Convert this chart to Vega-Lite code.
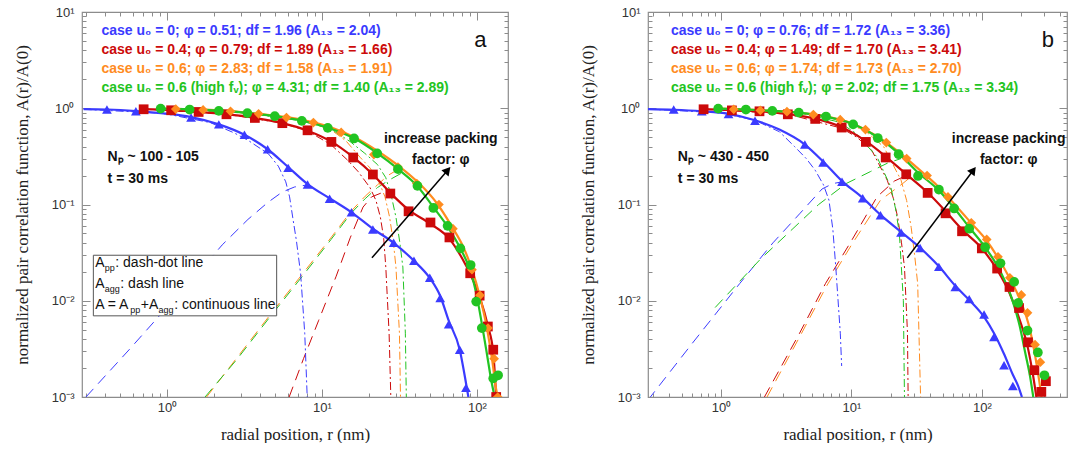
{
"$schema":"https://vega.github.io/schema/vega-lite/v6.json",
"background":"white",
"padding":{"left":12,"top":5,"right":0,"bottom":0},
"spacing":68,
"config":{"view":{"stroke":"#8c8c8c","strokeWidth":1.2},"axis":{"domain":false,"grid":false,"tickColor":"#8c8c8c","tickWidth":1,"labelFont":"Liberation Sans","labelFontSize":13,"labelColor":"#333333","titleFont":"Liberation Serif","titleFontSize":17,"titleFontWeight":"normal","titleColor":"#222222","labelFlush":false,"labelOverlap":false,"labelBound":false}},
"datasets":{
"curves":[
{"p":"a","s":"B","k":"s","r":0.29,"A":0.98},{"p":"a","s":"B","k":"s","r":0.41,"A":0.97},{"p":"a","s":"B","k":"s","r":0.63,"A":0.935},{"p":"a","s":"B","k":"s","r":0.95,"A":0.885},{"p":"a","s":"B","k":"s","r":1.43,"A":0.81},{"p":"a","s":"B","k":"s","r":2.16,"A":0.68},{"p":"a","s":"B","k":"s","r":3.16,"A":0.53},{"p":"a","s":"B","k":"s","r":4.46,"A":0.375},{"p":"a","s":"B","k":"s","r":6.05,"A":0.245},{"p":"a","s":"B","k":"s","r":8.07,"A":0.163},{"p":"a","s":"B","k":"s","r":11.2,"A":0.116},{"p":"a","s":"B","k":"s","r":15.5,"A":0.083},{"p":"a","s":"B","k":"s","r":21.3,"A":0.056},{"p":"a","s":"B","k":"s","r":29,"A":0.04},{"p":"a","s":"B","k":"s","r":39.2,"A":0.026},{"p":"a","s":"B","k":"s","r":49.6,"A":0.0172},{"p":"a","s":"B","k":"s","r":57.9,"A":0.0112},{"p":"a","s":"B","k":"s","r":65.7,"A":0.0062},{"p":"a","s":"B","k":"s","r":77.4,"A":0.0031},{"p":"a","s":"B","k":"s","r":84.9,"A":0.0014},{"p":"a","s":"B","k":"s","r":88,"A":0.001},
{"p":"a","s":"R","k":"s","r":0.707,"A":0.98},{"p":"a","s":"R","k":"s","r":1.064,"A":0.955},{"p":"a","s":"R","k":"s","r":1.6,"A":0.918},{"p":"a","s":"R","k":"s","r":2.42,"A":0.868},{"p":"a","s":"R","k":"s","r":3.69,"A":0.795},{"p":"a","s":"R","k":"s","r":5.55,"A":0.7},{"p":"a","s":"R","k":"s","r":8.07,"A":0.585},{"p":"a","s":"R","k":"s","r":11.5,"A":0.45},{"p":"a","s":"R","k":"s","r":15.9,"A":0.31},{"p":"a","s":"R","k":"s","r":21.3,"A":0.205},{"p":"a","s":"R","k":"s","r":27.6,"A":0.132},{"p":"a","s":"R","k":"s","r":36.2,"A":0.088},{"p":"a","s":"R","k":"s","r":50.1,"A":0.063},{"p":"a","s":"R","k":"s","r":66.4,"A":0.044},{"p":"a","s":"R","k":"s","r":80.8,"A":0.027},{"p":"a","s":"R","k":"s","r":90.4,"A":0.019},{"p":"a","s":"R","k":"s","r":104,"A":0.011},{"p":"a","s":"R","k":"s","r":117.5,"A":0.0055},{"p":"a","s":"R","k":"s","r":127.3,"A":0.0029},{"p":"a","s":"R","k":"s","r":133,"A":0.001},
{"p":"a","s":"O","k":"s","r":0.91,"A":0.99},{"p":"a","s":"O","k":"s","r":1.9,"A":0.96},{"p":"a","s":"O","k":"s","r":3.8,"A":0.88},{"p":"a","s":"O","k":"s","r":7.6,"A":0.755},{"p":"a","s":"O","k":"s","r":11.4,"A":0.635},{"p":"a","s":"O","k":"s","r":16.2,"A":0.5},{"p":"a","s":"O","k":"s","r":22.8,"A":0.36},{"p":"a","s":"O","k":"s","r":31.4,"A":0.25},{"p":"a","s":"O","k":"s","r":42.8,"A":0.163},{"p":"a","s":"O","k":"s","r":55.1,"A":0.103},{"p":"a","s":"O","k":"s","r":68.4,"A":0.06},{"p":"a","s":"O","k":"s","r":81.7,"A":0.036},{"p":"a","s":"O","k":"s","r":93.1,"A":0.021},{"p":"a","s":"O","k":"s","r":104.5,"A":0.011},{"p":"a","s":"O","k":"s","r":115.9,"A":0.0052},{"p":"a","s":"O","k":"s","r":125.4,"A":0.0024},{"p":"a","s":"O","k":"s","r":133,"A":0.0012},{"p":"a","s":"O","k":"s","r":136.8,"A":0.001},
{"p":"a","s":"G","k":"s","r":0.91,"A":0.99},{"p":"a","s":"G","k":"s","r":1.4,"A":0.975},{"p":"a","s":"G","k":"s","r":2.16,"A":0.945},{"p":"a","s":"G","k":"s","r":3.3,"A":0.895},{"p":"a","s":"G","k":"s","r":4.96,"A":0.828},{"p":"a","s":"G","k":"s","r":7.41,"A":0.742},{"p":"a","s":"G","k":"s","r":10.9,"A":0.628},{"p":"a","s":"G","k":"s","r":16.1,"A":0.487},{"p":"a","s":"G","k":"s","r":22.7,"A":0.342},{"p":"a","s":"G","k":"s","r":30.9,"A":0.234},{"p":"a","s":"G","k":"s","r":41.3,"A":0.155},{"p":"a","s":"G","k":"s","r":52.3,"A":0.094},{"p":"a","s":"G","k":"s","r":64.6,"A":0.059},{"p":"a","s":"G","k":"s","r":78.1,"A":0.035},{"p":"a","s":"G","k":"s","r":91,"A":0.02},{"p":"a","s":"G","k":"s","r":98.8,"A":0.012},{"p":"a","s":"G","k":"s","r":107.4,"A":0.0058},{"p":"a","s":"G","k":"s","r":115.9,"A":0.0028},{"p":"a","s":"G","k":"s","r":123.5,"A":0.0015},{"p":"a","s":"G","k":"s","r":130,"A":0.001},
{"p":"a","s":"B","k":"d","r":0.3,"A":0.001},{"p":"a","s":"B","k":"d","r":0.57,"A":0.0031},{"p":"a","s":"B","k":"d","r":0.95,"A":0.0078},{"p":"a","s":"B","k":"d","r":1.43,"A":0.016},{"p":"a","s":"B","k":"d","r":2.27,"A":0.038},{"p":"a","s":"B","k":"d","r":3.33,"A":0.07},{"p":"a","s":"B","k":"d","r":4.47,"A":0.105},{"p":"a","s":"B","k":"d","r":5.55,"A":0.135},{"p":"a","s":"B","k":"d","r":6.65,"A":0.152},{"p":"a","s":"B","k":"d","r":8.07,"A":0.16},
{"p":"a","s":"R","k":"d","r":6.14,"A":0.001},{"p":"a","s":"R","k":"d","r":7.6,"A":0.0025},{"p":"a","s":"R","k":"d","r":9.5,"A":0.0062},{"p":"a","s":"R","k":"d","r":12.35,"A":0.018},{"p":"a","s":"R","k":"d","r":15.2,"A":0.045},{"p":"a","s":"R","k":"d","r":18.4,"A":0.094},{"p":"a","s":"R","k":"d","r":20.9,"A":0.12},{"p":"a","s":"R","k":"d","r":24.5,"A":0.133},{"p":"a","s":"R","k":"d","r":27.6,"A":0.13},
{"p":"a","s":"O","k":"d","r":1.8,"A":0.001},{"p":"a","s":"O","k":"d","r":2.85,"A":0.0026},{"p":"a","s":"O","k":"d","r":4.52,"A":0.0068},{"p":"a","s":"O","k":"d","r":7.6,"A":0.0196},{"p":"a","s":"O","k":"d","r":11.4,"A":0.045},{"p":"a","s":"O","k":"d","r":15.5,"A":0.086},{"p":"a","s":"O","k":"d","r":19,"A":0.122},{"p":"a","s":"O","k":"d","r":22.8,"A":0.16},{"p":"a","s":"O","k":"d","r":26.6,"A":0.2},{"p":"a","s":"O","k":"d","r":31.4,"A":0.235},
{"p":"a","s":"G","k":"d","r":1.76,"A":0.001},{"p":"a","s":"G","k":"d","r":2.85,"A":0.0025},{"p":"a","s":"G","k":"d","r":4.52,"A":0.0065},{"p":"a","s":"G","k":"d","r":7.6,"A":0.0186},{"p":"a","s":"G","k":"d","r":11.4,"A":0.043},{"p":"a","s":"G","k":"d","r":15.5,"A":0.082},{"p":"a","s":"G","k":"d","r":19,"A":0.115},{"p":"a","s":"G","k":"d","r":22.8,"A":0.15},{"p":"a","s":"G","k":"d","r":27.2,"A":0.18},{"p":"a","s":"G","k":"d","r":32.3,"A":0.21},
{"p":"a","s":"B","k":"dd","r":0.29,"A":0.975},{"p":"a","s":"B","k":"dd","r":0.95,"A":0.885},{"p":"a","s":"B","k":"dd","r":1.9,"A":0.71},{"p":"a","s":"B","k":"dd","r":2.71,"A":0.555},{"p":"a","s":"B","k":"dd","r":3.33,"A":0.465},{"p":"a","s":"B","k":"dd","r":4.52,"A":0.335},{"p":"a","s":"B","k":"dd","r":5.23,"A":0.25},{"p":"a","s":"B","k":"dd","r":5.84,"A":0.172},{"p":"a","s":"B","k":"dd","r":6.18,"A":0.12},{"p":"a","s":"B","k":"dd","r":6.47,"A":0.074},{"p":"a","s":"B","k":"dd","r":6.84,"A":0.042},{"p":"a","s":"B","k":"dd","r":7.28,"A":0.0192},{"p":"a","s":"B","k":"dd","r":7.74,"A":0.0046},{"p":"a","s":"B","k":"dd","r":8.03,"A":0.001},
{"p":"a","s":"R","k":"dd","r":0.707,"A":0.98},{"p":"a","s":"R","k":"dd","r":2.42,"A":0.868},{"p":"a","s":"R","k":"dd","r":5.55,"A":0.7},{"p":"a","s":"R","k":"dd","r":8.07,"A":0.58},{"p":"a","s":"R","k":"dd","r":11.4,"A":0.42},{"p":"a","s":"R","k":"dd","r":14.6,"A":0.29},{"p":"a","s":"R","k":"dd","r":17.1,"A":0.22},{"p":"a","s":"R","k":"dd","r":20.4,"A":0.15},{"p":"a","s":"R","k":"dd","r":22.3,"A":0.11},{"p":"a","s":"R","k":"dd","r":23.8,"A":0.074},{"p":"a","s":"R","k":"dd","r":25,"A":0.045},{"p":"a","s":"R","k":"dd","r":25.8,"A":0.0224},{"p":"a","s":"R","k":"dd","r":27.1,"A":0.0046},{"p":"a","s":"R","k":"dd","r":27.8,"A":0.001},
{"p":"a","s":"O","k":"dd","r":0.91,"A":0.99},{"p":"a","s":"O","k":"dd","r":3.8,"A":0.88},{"p":"a","s":"O","k":"dd","r":7.6,"A":0.75},{"p":"a","s":"O","k":"dd","r":11.4,"A":0.6},{"p":"a","s":"O","k":"dd","r":14.25,"A":0.46},{"p":"a","s":"O","k":"dd","r":17.6,"A":0.31},{"p":"a","s":"O","k":"dd","r":20.4,"A":0.24},{"p":"a","s":"O","k":"dd","r":23.2,"A":0.175},{"p":"a","s":"O","k":"dd","r":25.5,"A":0.12},{"p":"a","s":"O","k":"dd","r":27.3,"A":0.074},{"p":"a","s":"O","k":"dd","r":28.9,"A":0.04},{"p":"a","s":"O","k":"dd","r":30,"A":0.0224},{"p":"a","s":"O","k":"dd","r":31.6,"A":0.0046},{"p":"a","s":"O","k":"dd","r":32.1,"A":0.001},
{"p":"a","s":"G","k":"dd","r":0.91,"A":0.99},{"p":"a","s":"G","k":"dd","r":3.3,"A":0.89},{"p":"a","s":"G","k":"dd","r":7.41,"A":0.74},{"p":"a","s":"G","k":"dd","r":11.4,"A":0.61},{"p":"a","s":"G","k":"dd","r":15.2,"A":0.45},{"p":"a","s":"G","k":"dd","r":18.9,"A":0.34},{"p":"a","s":"G","k":"dd","r":22.8,"A":0.26},{"p":"a","s":"G","k":"dd","r":25.8,"A":0.19},{"p":"a","s":"G","k":"dd","r":28.1,"A":0.12},{"p":"a","s":"G","k":"dd","r":30,"A":0.074},{"p":"a","s":"G","k":"dd","r":31.8,"A":0.04},{"p":"a","s":"G","k":"dd","r":33.25,"A":0.0224},{"p":"a","s":"G","k":"dd","r":34.5,"A":0.0046},{"p":"a","s":"G","k":"dd","r":35,"A":0.001},
{"p":"b","s":"B","k":"s","r":0.275,"A":0.98},{"p":"b","s":"B","k":"s","r":0.433,"A":0.965},{"p":"b","s":"B","k":"s","r":0.711,"A":0.93},{"p":"b","s":"B","k":"s","r":1.14,"A":0.875},{"p":"b","s":"B","k":"s","r":1.82,"A":0.75},{"p":"b","s":"B","k":"s","r":2.8,"A":0.6},{"p":"b","s":"B","k":"s","r":4.39,"A":0.42},{"p":"b","s":"B","k":"s","r":6.06,"A":0.28},{"p":"b","s":"B","k":"s","r":8.46,"A":0.175},{"p":"b","s":"B","k":"s","r":12.2,"A":0.117},{"p":"b","s":"B","k":"s","r":16.7,"A":0.078},{"p":"b","s":"B","k":"s","r":24,"A":0.052},{"p":"b","s":"B","k":"s","r":33.6,"A":0.0355},{"p":"b","s":"B","k":"s","r":46.8,"A":0.0228},{"p":"b","s":"B","k":"s","r":62.6,"A":0.0143},{"p":"b","s":"B","k":"s","r":80,"A":0.0102},{"p":"b","s":"B","k":"s","r":104,"A":0.0068},{"p":"b","s":"B","k":"s","r":124,"A":0.0046},{"p":"b","s":"B","k":"s","r":148,"A":0.0028},{"p":"b","s":"B","k":"s","r":173,"A":0.0017},{"p":"b","s":"B","k":"s","r":190,"A":0.0013},{"p":"b","s":"B","k":"s","r":203,"A":0.001},
{"p":"b","s":"R","k":"s","r":0.734,"A":0.978},{"p":"b","s":"R","k":"s","r":1.21,"A":0.955},{"p":"b","s":"R","k":"s","r":1.97,"A":0.93},{"p":"b","s":"R","k":"s","r":3.25,"A":0.87},{"p":"b","s":"R","k":"s","r":5.27,"A":0.78},{"p":"b","s":"R","k":"s","r":8.41,"A":0.635},{"p":"b","s":"R","k":"s","r":12.9,"A":0.455},{"p":"b","s":"R","k":"s","r":18.3,"A":0.315},{"p":"b","s":"R","k":"s","r":26.3,"A":0.207},{"p":"b","s":"R","k":"s","r":38.4,"A":0.133},{"p":"b","s":"R","k":"s","r":52.7,"A":0.085},{"p":"b","s":"R","k":"s","r":70.5,"A":0.055},{"p":"b","s":"R","k":"s","r":100,"A":0.035},{"p":"b","s":"R","k":"s","r":131,"A":0.021},{"p":"b","s":"R","k":"s","r":163,"A":0.012},{"p":"b","s":"R","k":"s","r":193,"A":0.0066},{"p":"b","s":"R","k":"s","r":226,"A":0.0032},{"p":"b","s":"R","k":"s","r":245,"A":0.0018},{"p":"b","s":"R","k":"s","r":262,"A":0.001},
{"p":"b","s":"O","k":"s","r":1,"A":0.99},{"p":"b","s":"O","k":"s","r":2,"A":0.955},{"p":"b","s":"O","k":"s","r":4,"A":0.9},{"p":"b","s":"O","k":"s","r":6.5,"A":0.82},{"p":"b","s":"O","k":"s","r":10,"A":0.7},{"p":"b","s":"O","k":"s","r":15,"A":0.53},{"p":"b","s":"O","k":"s","r":22,"A":0.37},{"p":"b","s":"O","k":"s","r":32,"A":0.24},{"p":"b","s":"O","k":"s","r":46,"A":0.155},{"p":"b","s":"O","k":"s","r":62,"A":0.1},{"p":"b","s":"O","k":"s","r":83,"A":0.064},{"p":"b","s":"O","k":"s","r":109,"A":0.042},{"p":"b","s":"O","k":"s","r":133,"A":0.028},{"p":"b","s":"O","k":"s","r":164,"A":0.017},{"p":"b","s":"O","k":"s","r":201,"A":0.0095},{"p":"b","s":"O","k":"s","r":230,"A":0.0055},{"p":"b","s":"O","k":"s","r":255,"A":0.0028},{"p":"b","s":"O","k":"s","r":275,"A":0.0015},{"p":"b","s":"O","k":"s","r":287,"A":0.001},
{"p":"b","s":"G","k":"s","r":0.95,"A":0.99},{"p":"b","s":"G","k":"s","r":1.55,"A":0.97},{"p":"b","s":"G","k":"s","r":2.47,"A":0.94},{"p":"b","s":"G","k":"s","r":3.94,"A":0.9},{"p":"b","s":"G","k":"s","r":6.38,"A":0.82},{"p":"b","s":"G","k":"s","r":10.3,"A":0.685},{"p":"b","s":"G","k":"s","r":15.9,"A":0.5},{"p":"b","s":"G","k":"s","r":23,"A":0.34},{"p":"b","s":"G","k":"s","r":32.4,"A":0.215},{"p":"b","s":"G","k":"s","r":46.8,"A":0.14},{"p":"b","s":"G","k":"s","r":61.3,"A":0.092},{"p":"b","s":"G","k":"s","r":80,"A":0.058},{"p":"b","s":"G","k":"s","r":106,"A":0.036},{"p":"b","s":"G","k":"s","r":139,"A":0.02},{"p":"b","s":"G","k":"s","r":170,"A":0.0105},{"p":"b","s":"G","k":"s","r":195,"A":0.0055},{"p":"b","s":"G","k":"s","r":215,"A":0.0029},{"p":"b","s":"G","k":"s","r":235,"A":0.0016},{"p":"b","s":"G","k":"s","r":248,"A":0.001},
{"p":"b","s":"B","k":"d","r":0.275,"A":0.00093},{"p":"b","s":"B","k":"d","r":0.6,"A":0.0036},{"p":"b","s":"B","k":"d","r":1.39,"A":0.0151},{"p":"b","s":"B","k":"d","r":2.5,"A":0.04},{"p":"b","s":"B","k":"d","r":4,"A":0.08},{"p":"b","s":"B","k":"d","r":5.95,"A":0.145},{"p":"b","s":"B","k":"d","r":7.2,"A":0.165},{"p":"b","s":"B","k":"d","r":8.5,"A":0.172},
{"p":"b","s":"R","k":"d","r":2.15,"A":0.001},{"p":"b","s":"R","k":"d","r":4,"A":0.0046},{"p":"b","s":"R","k":"d","r":6.32,"A":0.0151},{"p":"b","s":"R","k":"d","r":10,"A":0.042},{"p":"b","s":"R","k":"d","r":15.7,"A":0.12},{"p":"b","s":"R","k":"d","r":21.3,"A":0.175},{"p":"b","s":"R","k":"d","r":26.3,"A":0.2},
{"p":"b","s":"O","k":"d","r":2.25,"A":0.001},{"p":"b","s":"O","k":"d","r":4,"A":0.0042},{"p":"b","s":"O","k":"d","r":6.5,"A":0.0145},{"p":"b","s":"O","k":"d","r":10,"A":0.038},{"p":"b","s":"O","k":"d","r":16.7,"A":0.111},{"p":"b","s":"O","k":"d","r":24.7,"A":0.165},{"p":"b","s":"O","k":"d","r":32,"A":0.22},
{"p":"b","s":"G","k":"d","r":0.9,"A":0.0085},{"p":"b","s":"G","k":"d","r":2,"A":0.027},{"p":"b","s":"G","k":"d","r":3.5,"A":0.055},{"p":"b","s":"G","k":"d","r":5.6,"A":0.1},{"p":"b","s":"G","k":"d","r":9.1,"A":0.165},{"p":"b","s":"G","k":"d","r":14,"A":0.22},{"p":"b","s":"G","k":"d","r":19,"A":0.27},{"p":"b","s":"G","k":"d","r":24,"A":0.3},
{"p":"b","s":"B","k":"dd","r":0.275,"A":0.98},{"p":"b","s":"B","k":"dd","r":1,"A":0.895},{"p":"b","s":"B","k":"dd","r":1.82,"A":0.75},{"p":"b","s":"B","k":"dd","r":2.8,"A":0.57},{"p":"b","s":"B","k":"dd","r":3.66,"A":0.4},{"p":"b","s":"B","k":"dd","r":4.5,"A":0.3},{"p":"b","s":"B","k":"dd","r":5.27,"A":0.227},{"p":"b","s":"B","k":"dd","r":6.1,"A":0.16},{"p":"b","s":"B","k":"dd","r":6.72,"A":0.111},{"p":"b","s":"B","k":"dd","r":7.2,"A":0.055},{"p":"b","s":"B","k":"dd","r":7.58,"A":0.0224},{"p":"b","s":"B","k":"dd","r":8.21,"A":0.0046},{"p":"b","s":"B","k":"dd","r":8.41,"A":0.0021},
{"p":"b","s":"R","k":"dd","r":0.734,"A":0.978},{"p":"b","s":"R","k":"dd","r":3.25,"A":0.87},{"p":"b","s":"R","k":"dd","r":8.41,"A":0.62},{"p":"b","s":"R","k":"dd","r":11,"A":0.5},{"p":"b","s":"R","k":"dd","r":14.3,"A":0.366},{"p":"b","s":"R","k":"dd","r":18.8,"A":0.179},{"p":"b","s":"R","k":"dd","r":21,"A":0.115},{"p":"b","s":"R","k":"dd","r":22.6,"A":0.074},{"p":"b","s":"R","k":"dd","r":24.2,"A":0.04},{"p":"b","s":"R","k":"dd","r":25.5,"A":0.0224},{"p":"b","s":"R","k":"dd","r":26.9,"A":0.0046},{"p":"b","s":"R","k":"dd","r":27.2,"A":0.001},
{"p":"b","s":"O","k":"dd","r":1,"A":0.99},{"p":"b","s":"O","k":"dd","r":4,"A":0.9},{"p":"b","s":"O","k":"dd","r":8,"A":0.76},{"p":"b","s":"O","k":"dd","r":12.8,"A":0.58},{"p":"b","s":"O","k":"dd","r":17.7,"A":0.397},{"p":"b","s":"O","k":"dd","r":24,"A":0.179},{"p":"b","s":"O","k":"dd","r":26.5,"A":0.11},{"p":"b","s":"O","k":"dd","r":28.7,"A":0.058},{"p":"b","s":"O","k":"dd","r":30.5,"A":0.03},{"p":"b","s":"O","k":"dd","r":32.2,"A":0.0151},{"p":"b","s":"O","k":"dd","r":33.9,"A":0.001},
{"p":"b","s":"G","k":"dd","r":0.95,"A":0.99},{"p":"b","s":"G","k":"dd","r":3.94,"A":0.9},{"p":"b","s":"G","k":"dd","r":8,"A":0.72},{"p":"b","s":"G","k":"dd","r":10.9,"A":0.546},{"p":"b","s":"G","k":"dd","r":15.7,"A":0.312},{"p":"b","s":"G","k":"dd","r":20,"A":0.153},{"p":"b","s":"G","k":"dd","r":21.8,"A":0.09},{"p":"b","s":"G","k":"dd","r":23.3,"A":0.05},{"p":"b","s":"G","k":"dd","r":25,"A":0.0101},{"p":"b","s":"G","k":"dd","r":25.5,"A":0.001}
],
"pts":[
{"p":"a","s":"B","r":0.41,"A":0.97},{"p":"a","s":"B","r":0.63,"A":0.93},{"p":"a","s":"B","r":1.43,"A":0.8},{"p":"a","s":"B","r":2.16,"A":0.68},{"p":"a","s":"B","r":3.16,"A":0.53},{"p":"a","s":"B","r":4.46,"A":0.375},{"p":"a","s":"B","r":6.05,"A":0.24},{"p":"a","s":"B","r":8.07,"A":0.161},{"p":"a","s":"B","r":11.2,"A":0.115},{"p":"a","s":"B","r":15.5,"A":0.083},{"p":"a","s":"B","r":21.3,"A":0.055},{"p":"a","s":"B","r":29,"A":0.04},{"p":"a","s":"B","r":39.2,"A":0.026},{"p":"a","s":"B","r":49.6,"A":0.0173},{"p":"a","s":"B","r":57.9,"A":0.0107},{"p":"a","s":"B","r":65.7,"A":0.0057},{"p":"a","s":"B","r":77.4,"A":0.0031},{"p":"a","s":"B","r":84.9,"A":0.00125},
{"p":"a","s":"R","r":0.707,"A":0.976},{"p":"a","s":"R","r":1.064,"A":0.953},{"p":"a","s":"R","r":1.6,"A":0.915},{"p":"a","s":"R","r":2.42,"A":0.866},{"p":"a","s":"R","r":3.69,"A":0.793},{"p":"a","s":"R","r":5.55,"A":0.7},{"p":"a","s":"R","r":8.07,"A":0.59},{"p":"a","s":"R","r":11.5,"A":0.447},{"p":"a","s":"R","r":15.9,"A":0.308},{"p":"a","s":"R","r":21.3,"A":0.205},{"p":"a","s":"R","r":27.6,"A":0.13},{"p":"a","s":"R","r":36.2,"A":0.085},{"p":"a","s":"R","r":50.1,"A":0.065},{"p":"a","s":"R","r":66.4,"A":0.0455},{"p":"a","s":"R","r":90.4,"A":0.0193},{"p":"a","s":"R","r":104,"A":0.0113},{"p":"a","s":"R","r":117.5,"A":0.0054},{"p":"a","s":"R","r":127.3,"A":0.0031},{"p":"a","s":"R","r":133,"A":0.001},
{"p":"a","s":"O","r":1.14,"A":0.98},{"p":"a","s":"O","r":1.71,"A":0.96},{"p":"a","s":"O","r":2.57,"A":0.93},{"p":"a","s":"O","r":3.9,"A":0.875},{"p":"a","s":"O","r":5.9,"A":0.8},{"p":"a","s":"O","r":8.8,"A":0.71},{"p":"a","s":"O","r":13.3,"A":0.56},{"p":"a","s":"O","r":21.6,"A":0.33},{"p":"a","s":"O","r":30.9,"A":0.245},{"p":"a","s":"O","r":40.9,"A":0.165},{"p":"a","s":"O","r":56.8,"A":0.1},{"p":"a","s":"O","r":69.9,"A":0.056},{"p":"a","s":"O","r":92.8,"A":0.021},{"p":"a","s":"O","r":104.5,"A":0.0114},{"p":"a","s":"O","r":117.8,"A":0.0052},{"p":"a","s":"O","r":129,"A":0.0025},{"p":"a","s":"O","r":136,"A":0.001},
{"p":"a","s":"G","r":0.91,"A":0.99},{"p":"a","s":"G","r":1.4,"A":0.97},{"p":"a","s":"G","r":2.16,"A":0.94},{"p":"a","s":"G","r":3.3,"A":0.89},{"p":"a","s":"G","r":4.96,"A":0.826},{"p":"a","s":"G","r":7.41,"A":0.74},{"p":"a","s":"G","r":10.9,"A":0.625},{"p":"a","s":"G","r":16.1,"A":0.485},{"p":"a","s":"G","r":22.7,"A":0.34},{"p":"a","s":"G","r":30.9,"A":0.233},{"p":"a","s":"G","r":41.3,"A":0.156},{"p":"a","s":"G","r":52.3,"A":0.092},{"p":"a","s":"G","r":64.6,"A":0.06},{"p":"a","s":"G","r":78.1,"A":0.035},{"p":"a","s":"G","r":91,"A":0.0235},{"p":"a","s":"G","r":98.8,"A":0.0098},{"p":"a","s":"G","r":107.4,"A":0.0052},{"p":"a","s":"G","r":127.3,"A":0.00156},{"p":"a","s":"G","r":136.8,"A":0.00168},
{"p":"b","s":"B","r":0.433,"A":0.97},{"p":"b","s":"B","r":0.711,"A":0.93},{"p":"b","s":"B","r":1.14,"A":0.87},{"p":"b","s":"B","r":1.82,"A":0.74},{"p":"b","s":"B","r":4.39,"A":0.42},{"p":"b","s":"B","r":6.06,"A":0.273},{"p":"b","s":"B","r":8.46,"A":0.172},{"p":"b","s":"B","r":12.2,"A":0.116},{"p":"b","s":"B","r":16.7,"A":0.0774},{"p":"b","s":"B","r":24,"A":0.0512},{"p":"b","s":"B","r":33.6,"A":0.0354},{"p":"b","s":"B","r":46.8,"A":0.0225},{"p":"b","s":"B","r":62.6,"A":0.0139},{"p":"b","s":"B","r":80,"A":0.0104},{"p":"b","s":"B","r":104,"A":0.0072},{"p":"b","s":"B","r":124,"A":0.0042},{"p":"b","s":"B","r":148,"A":0.00214},{"p":"b","s":"B","r":173,"A":0.0013},
{"p":"b","s":"R","r":0.734,"A":0.976},{"p":"b","s":"R","r":1.21,"A":0.95},{"p":"b","s":"R","r":1.97,"A":0.93},{"p":"b","s":"R","r":3.25,"A":0.865},{"p":"b","s":"R","r":5.27,"A":0.775},{"p":"b","s":"R","r":8.41,"A":0.63},{"p":"b","s":"R","r":12.9,"A":0.447},{"p":"b","s":"R","r":18.3,"A":0.308},{"p":"b","s":"R","r":26.3,"A":0.206},{"p":"b","s":"R","r":38.4,"A":0.132},{"p":"b","s":"R","r":52.7,"A":0.081},{"p":"b","s":"R","r":70.5,"A":0.0527},{"p":"b","s":"R","r":100,"A":0.035},{"p":"b","s":"R","r":131,"A":0.0216},{"p":"b","s":"R","r":163,"A":0.0139},{"p":"b","s":"R","r":193,"A":0.0084},{"p":"b","s":"R","r":226,"A":0.0037},{"p":"b","s":"R","r":253,"A":0.0019},{"p":"b","s":"R","r":286,"A":0.00113},{"p":"b","s":"R","r":310,"A":0.00146},
{"p":"b","s":"O","r":1.25,"A":0.975},{"p":"b","s":"O","r":2,"A":0.95},{"p":"b","s":"O","r":3.2,"A":0.92},{"p":"b","s":"O","r":5.1,"A":0.86},{"p":"b","s":"O","r":8.2,"A":0.76},{"p":"b","s":"O","r":12.8,"A":0.6},{"p":"b","s":"O","r":18.5,"A":0.44},{"p":"b","s":"O","r":26.5,"A":0.3},{"p":"b","s":"O","r":38,"A":0.2},{"p":"b","s":"O","r":55,"A":0.12},{"p":"b","s":"O","r":83,"A":0.0645},{"p":"b","s":"O","r":109,"A":0.0434},{"p":"b","s":"O","r":133,"A":0.0286},{"p":"b","s":"O","r":164,"A":0.0173},{"p":"b","s":"O","r":201,"A":0.0115},{"p":"b","s":"O","r":224,"A":0.0075},{"p":"b","s":"O","r":256,"A":0.0035},{"p":"b","s":"O","r":281,"A":0.0023},
{"p":"b","s":"G","r":0.95,"A":0.99},{"p":"b","s":"G","r":1.55,"A":0.97},{"p":"b","s":"G","r":2.47,"A":0.94},{"p":"b","s":"G","r":3.94,"A":0.9},{"p":"b","s":"G","r":6.38,"A":0.82},{"p":"b","s":"G","r":10.3,"A":0.68},{"p":"b","s":"G","r":15.9,"A":0.49},{"p":"b","s":"G","r":23,"A":0.333},{"p":"b","s":"G","r":32.4,"A":0.198},{"p":"b","s":"G","r":46.8,"A":0.143},{"p":"b","s":"G","r":61.3,"A":0.091},{"p":"b","s":"G","r":80,"A":0.056},{"p":"b","s":"G","r":106,"A":0.036},{"p":"b","s":"G","r":139,"A":0.0245},{"p":"b","s":"G","r":177,"A":0.0157},{"p":"b","s":"G","r":190,"A":0.0095},{"p":"b","s":"G","r":224,"A":0.0049},{"p":"b","s":"G","r":269,"A":0.0029},{"p":"b","s":"G","r":302,"A":0.00168}
],
"cases":[
{"p":"a","s":"B","label":"case u₀ = 0; φ = 0.51; df = 1.96 (A₁₃ = 2.04)","r":0.378,"A":6.3},
{"p":"a","s":"R","label":"case u₀ = 0.4; φ = 0.79; df = 1.89 (A₁₃ = 1.66)","r":0.378,"A":4.0},
{"p":"a","s":"O","label":"case u₀ = 0.6; φ = 2.83; df = 1.58 (A₁₃ = 1.91)","r":0.378,"A":2.54},
{"p":"a","s":"G","label":"case u₀ = 0.6 (high fᵥ); φ = 4.31; df = 1.40  (A₁₃ = 2.89)","r":0.378,"A":1.61},
{"p":"b","s":"B","label":"case u₀ = 0; φ = 0.76; df = 1.72 (A₁₃ = 3.36)","r":0.412,"A":6.3},
{"p":"b","s":"R","label":"case u₀ = 0.4; φ = 1.49; df = 1.70 (A₁₃ = 3.41)","r":0.412,"A":4.0},
{"p":"b","s":"O","label":"case u₀ = 0.6; φ = 1.74; df = 1.73 (A₁₃ = 2.70)","r":0.412,"A":2.54},
{"p":"b","s":"G","label":"case u₀ = 0.6 (high fᵥ); φ = 2.02; df = 1.75 (A₁₃ = 3.34)","r":0.412,"A":1.61}
],
"notes":[
{"p":"a","g":"left","label":"Nₚ ~ 100 - 105","r":0.414,"A":0.308},
{"p":"a","g":"left","label":"t = 30 ms","r":0.414,"A":0.186},
{"p":"a","g":"center","label":"increase packing","r":58.4,"A":0.484},
{"p":"a","g":"center","label":"factor: φ","r":58.4,"A":0.288},
{"p":"b","g":"left","label":"Nₚ ~ 430 - 450","r":0.466,"A":0.308},
{"p":"b","g":"left","label":"t = 30 ms","r":0.466,"A":0.186},
{"p":"b","g":"center","label":"increase packing","r":160.6,"A":0.484},
{"p":"b","g":"center","label":"factor: φ","r":160.6,"A":0.288}
],
"panels":[
{"p":"a","label":"a","r":105,"A":5.17},
{"p":"b","label":"b","r":321,"A":5.17}
],
"boxtext":[
{"sub":false,"label":"A","r":0.345,"A":0.0244},
{"sub":true,"label":"pp","r":0.397,"A":0.0244},
{"sub":false,"label":": dash-dot line","r":0.464,"A":0.0244},
{"sub":false,"label":"A","r":0.345,"A":0.0151},
{"sub":true,"label":"agg","r":0.397,"A":0.0151},
{"sub":false,"label":": dash line","r":0.5,"A":0.0151},
{"sub":false,"label":"A = A","r":0.345,"A":0.009},
{"sub":true,"label":"pp","r":0.58,"A":0.009},
{"sub":false,"label":"+A","r":0.678,"A":0.009},
{"sub":true,"label":"agg","r":0.883,"A":0.009},
{"sub":false,"label":": continuous line","r":1.115,"A":0.009}
],
"box":[{"r":0.335,"r2":5.1,"A":0.0297,"A2":0.00697}],
"arrows":[
{"p":"a","r":21,"A":0.0279,"r2":64.7,"A2":0.227},
{"p":"b","r":26.8,"A":0.0279,"r2":86,"A2":0.227}
]
},
"hconcat":[
{
"width":426,"height":385,
"encoding":{
"x":{"field":"r","type":"quantitative","scale":{"type":"log","domain":[0.283,158.5],"nice":false},"axis":null},
"y":{"field":"A","type":"quantitative","scale":{"type":"log","domain":[0.001,10],"nice":false},"axis":null}
},
"layer":[
{"data":{"name":"curves"},"transform":[{"filter":"datum.p=='a' && datum.k=='d'"}],
"mark":{"type":"line","strokeWidth":1,"strokeDash":[11,7],"clip":true},
"encoding":{
"x":{"field":"r","type":"quantitative","scale":{"type":"log","domain":[0.283,158.5],"nice":false},"axis":{"orient":"bottom","values":[0.3,0.4,0.5,0.6,0.7,0.8,0.9,1,2,3,4,5,6,7,8,9,10,20,30,40,50,60,70,80,90,100],"labelExpr":"abs(log(datum.value)/LN10-round(log(datum.value)/LN10))<0.01 ? (round(log(datum.value)/LN10)==-3 ? '10⁻³' : round(log(datum.value)/LN10)==-2 ? '10⁻²' : round(log(datum.value)/LN10)==-1 ? '10⁻¹' : round(log(datum.value)/LN10)==0 ? '10⁰' : round(log(datum.value)/LN10)==1 ? '10¹' : '10²') : ''","tickSize":{"condition":{"test":"abs(log(datum.value)/LN10-round(log(datum.value)/LN10))<0.01","value":-8},"value":-4},"labelPadding":12,"title":"radial position, r (nm)","titleFont":"Liberation Serif","titleFontSize":17,"titleFontWeight":"normal","titleColor":"#222222","titlePadding":8}},
"y":{"field":"A","type":"quantitative","scale":{"type":"log","domain":[0.001,10],"nice":false},"axis":{"orient":"left","values":[0.001,0.002,0.003,0.004,0.005,0.006,0.007,0.008,0.009,0.01,0.02,0.03,0.04,0.05,0.06,0.07,0.08,0.09,0.1,0.2,0.3,0.4,0.5,0.6,0.7,0.8,0.9,1,2,3,4,5,6,7,8,9,10],"labelExpr":"abs(log(datum.value)/LN10-round(log(datum.value)/LN10))<0.01 ? (round(log(datum.value)/LN10)==-3 ? '10⁻³' : round(log(datum.value)/LN10)==-2 ? '10⁻²' : round(log(datum.value)/LN10)==-1 ? '10⁻¹' : round(log(datum.value)/LN10)==0 ? '10⁰' : round(log(datum.value)/LN10)==1 ? '10¹' : '10²') : ''","tickSize":{"condition":{"test":"abs(log(datum.value)/LN10-round(log(datum.value)/LN10))<0.01","value":-8},"value":-4},"labelPadding":16,"title":"normalized pair correlation function, A(r)/A(0)","titleFont":"Liberation Serif","titleFontSize":17,"titleFontWeight":"normal","titleColor":"#222222","titlePadding":20}},
"color":{"field":"s","type":"nominal","scale":{"domain":["B","R","O","G"],"range":["#3b3bff","#cc0a0a","#ff8c1f","#22c422"]},"legend":null}}},
{"data":{"name":"curves"},"transform":[{"filter":"datum.p=='a' && datum.k=='dd'"}],
"mark":{"type":"line","strokeWidth":1,"strokeDash":[8,3,2,3],"clip":true},
"encoding":{
"x":{"field":"r","type":"quantitative","scale":{"type":"log","domain":[0.283,158.5],"nice":false},"axis":{"orient":"top","values":[0.3,0.4,0.5,0.6,0.7,0.8,0.9,1,2,3,4,5,6,7,8,9,10,20,30,40,50,60,70,80,90,100],"labels":false,"title":null,"tickSize":{"condition":{"test":"abs(log(datum.value)/LN10-round(log(datum.value)/LN10))<0.01","value":-8},"value":-4}}},
"y":{"field":"A","type":"quantitative","scale":{"type":"log","domain":[0.001,10],"nice":false},"axis":{"orient":"right","values":[0.001,0.002,0.003,0.004,0.005,0.006,0.007,0.008,0.009,0.01,0.02,0.03,0.04,0.05,0.06,0.07,0.08,0.09,0.1,0.2,0.3,0.4,0.5,0.6,0.7,0.8,0.9,1,2,3,4,5,6,7,8,9,10],"labels":false,"title":null,"tickSize":{"condition":{"test":"abs(log(datum.value)/LN10-round(log(datum.value)/LN10))<0.01","value":-8},"value":-4}}},
"color":{"field":"s","type":"nominal","scale":{"domain":["B","R","O","G"],"range":["#3b3bff","#cc0a0a","#ff8c1f","#22c422"]},"legend":null}}},
{"data":{"name":"curves"},"transform":[{"filter":"datum.p=='a' && datum.k=='s'"}],
"mark":{"type":"line","strokeWidth":2.2,"interpolate":"monotone","clip":true},
"encoding":{"color":{"field":"s","type":"nominal","scale":{"domain":["B","R","O","G"],"range":["#3b3bff","#cc0a0a","#ff8c1f","#22c422"]},"legend":null}}},
{"data":{"name":"pts"},"transform":[{"filter":"datum.p=='a'"}],
"mark":{"type":"point","filled":true,"size":95,"opacity":1,"clip":true},
"encoding":{"color":{"field":"s","type":"nominal","scale":{"domain":["B","R","O","G"],"range":["#3b3bff","#cc0a0a","#ff8c1f","#22c422"]},"legend":null},
"shape":{"field":"s","type":"nominal","scale":{"domain":["B","R","O","G"],"range":["triangle-up","square","diamond","circle"]},"legend":null}}},
{"data":{"name":"box"},"mark":{"type":"rect","fill":"white","stroke":"#555555","strokeWidth":1},
"encoding":{"x2":{"field":"r2"},"y2":{"field":"A2"}}},
{"data":{"name":"boxtext"},"transform":[{"filter":"!datum.sub"}],
"mark":{"type":"text","align":"left","baseline":"middle","font":"Liberation Sans","fontSize":14,"color":"#111111"},
"encoding":{"text":{"field":"label"}}},
{"data":{"name":"boxtext"},"transform":[{"filter":"datum.sub"}],
"mark":{"type":"text","align":"left","baseline":"middle","font":"Liberation Sans","fontSize":9,"dy":5,"color":"#111111"},
"encoding":{"text":{"field":"label"}}},
{"data":{"name":"cases"},"transform":[{"filter":"datum.p=='a'"}],
"mark":{"type":"text","align":"left","baseline":"middle","font":"Liberation Sans","fontSize":14,"fontWeight":"bold"},
"encoding":{"text":{"field":"label"},"color":{"field":"s","type":"nominal","scale":{"domain":["B","R","O","G"],"range":["#3b3bff","#cc0a0a","#ff8c1f","#22c422"]},"legend":null}}},
{"data":{"name":"notes"},"transform":[{"filter":"datum.p=='a' && datum.g=='left'"}],
"mark":{"type":"text","align":"left","baseline":"middle","font":"Liberation Sans","fontSize":14,"fontWeight":"bold","color":"#111111"},
"encoding":{"text":{"field":"label"}}},
{"data":{"name":"notes"},"transform":[{"filter":"datum.p=='a' && datum.g=='center'"}],
"mark":{"type":"text","align":"center","baseline":"middle","font":"Liberation Sans","fontSize":14,"fontWeight":"bold","color":"#111111"},
"encoding":{"text":{"field":"label"}}},
{"data":{"name":"panels"},"transform":[{"filter":"datum.p=='a'"}],
"mark":{"type":"text","align":"center","baseline":"middle","font":"Liberation Sans","fontSize":22,"color":"#111111"},
"encoding":{"text":{"field":"label"}}},
{"data":{"name":"arrows"},"transform":[{"filter":"datum.p=='a'"}],
"mark":{"type":"rule","strokeWidth":1.5,"color":"#000000"},
"encoding":{"x2":{"field":"r2"},"y2":{"field":"A2"}}},
{"data":{"name":"arrows"},"transform":[{"filter":"datum.p=='a'"}],
"mark":{"type":"point","shape":"triangle-up","filled":true,"size":90,"angle":40.8,"color":"#000000","opacity":1},
"encoding":{"x":{"field":"r2","type":"quantitative","scale":{"type":"log","domain":[0.283,158.5],"nice":false},"axis":null},"y":{"field":"A2","type":"quantitative","scale":{"type":"log","domain":[0.001,10],"nice":false},"axis":null}}}
],
"resolve":{"axis":{"x":"independent","y":"independent"}}
},
{
"width":419,"height":385,
"encoding":{
"x":{"field":"r","type":"quantitative","scale":{"type":"log","domain":[0.275,450],"nice":false},"axis":null},
"y":{"field":"A","type":"quantitative","scale":{"type":"log","domain":[0.001,10],"nice":false},"axis":null}
},
"layer":[
{"data":{"name":"curves"},"transform":[{"filter":"datum.p=='b' && datum.k=='d'"}],
"mark":{"type":"line","strokeWidth":1,"strokeDash":[11,7],"clip":true},
"encoding":{
"x":{"field":"r","type":"quantitative","scale":{"type":"log","domain":[0.275,450],"nice":false},"axis":{"orient":"bottom","values":[0.3,0.4,0.5,0.6,0.7,0.8,0.9,1,2,3,4,5,6,7,8,9,10,20,30,40,50,60,70,80,90,100,200,300,400],"labelExpr":"abs(log(datum.value)/LN10-round(log(datum.value)/LN10))<0.01 ? (round(log(datum.value)/LN10)==-3 ? '10⁻³' : round(log(datum.value)/LN10)==-2 ? '10⁻²' : round(log(datum.value)/LN10)==-1 ? '10⁻¹' : round(log(datum.value)/LN10)==0 ? '10⁰' : round(log(datum.value)/LN10)==1 ? '10¹' : '10²') : ''","tickSize":{"condition":{"test":"abs(log(datum.value)/LN10-round(log(datum.value)/LN10))<0.01","value":-8},"value":-4},"labelPadding":12,"title":"radial position, r (nm)","titleFont":"Liberation Serif","titleFontSize":17,"titleFontWeight":"normal","titleColor":"#222222","titlePadding":8}},
"y":{"field":"A","type":"quantitative","scale":{"type":"log","domain":[0.001,10],"nice":false},"axis":{"orient":"left","values":[0.001,0.002,0.003,0.004,0.005,0.006,0.007,0.008,0.009,0.01,0.02,0.03,0.04,0.05,0.06,0.07,0.08,0.09,0.1,0.2,0.3,0.4,0.5,0.6,0.7,0.8,0.9,1,2,3,4,5,6,7,8,9,10],"labelExpr":"abs(log(datum.value)/LN10-round(log(datum.value)/LN10))<0.01 ? (round(log(datum.value)/LN10)==-3 ? '10⁻³' : round(log(datum.value)/LN10)==-2 ? '10⁻²' : round(log(datum.value)/LN10)==-1 ? '10⁻¹' : round(log(datum.value)/LN10)==0 ? '10⁰' : round(log(datum.value)/LN10)==1 ? '10¹' : '10²') : ''","tickSize":{"condition":{"test":"abs(log(datum.value)/LN10-round(log(datum.value)/LN10))<0.01","value":-8},"value":-4},"labelPadding":16,"title":"normalized pair correlation function, A(r)/A(0)","titleFont":"Liberation Serif","titleFontSize":17,"titleFontWeight":"normal","titleColor":"#222222","titlePadding":20}},
"color":{"field":"s","type":"nominal","scale":{"domain":["B","R","O","G"],"range":["#3b3bff","#cc0a0a","#ff8c1f","#22c422"]},"legend":null}}},
{"data":{"name":"curves"},"transform":[{"filter":"datum.p=='b' && datum.k=='dd'"}],
"mark":{"type":"line","strokeWidth":1,"strokeDash":[8,3,2,3],"clip":true},
"encoding":{
"x":{"field":"r","type":"quantitative","scale":{"type":"log","domain":[0.275,450],"nice":false},"axis":{"orient":"top","values":[0.3,0.4,0.5,0.6,0.7,0.8,0.9,1,2,3,4,5,6,7,8,9,10,20,30,40,50,60,70,80,90,100,200,300,400],"labels":false,"title":null,"tickSize":{"condition":{"test":"abs(log(datum.value)/LN10-round(log(datum.value)/LN10))<0.01","value":-8},"value":-4}}},
"y":{"field":"A","type":"quantitative","scale":{"type":"log","domain":[0.001,10],"nice":false},"axis":{"orient":"right","values":[0.001,0.002,0.003,0.004,0.005,0.006,0.007,0.008,0.009,0.01,0.02,0.03,0.04,0.05,0.06,0.07,0.08,0.09,0.1,0.2,0.3,0.4,0.5,0.6,0.7,0.8,0.9,1,2,3,4,5,6,7,8,9,10],"labels":false,"title":null,"tickSize":{"condition":{"test":"abs(log(datum.value)/LN10-round(log(datum.value)/LN10))<0.01","value":-8},"value":-4}}},
"color":{"field":"s","type":"nominal","scale":{"domain":["B","R","O","G"],"range":["#3b3bff","#cc0a0a","#ff8c1f","#22c422"]},"legend":null}}},
{"data":{"name":"curves"},"transform":[{"filter":"datum.p=='b' && datum.k=='s'"}],
"mark":{"type":"line","strokeWidth":2.2,"interpolate":"monotone","clip":true},
"encoding":{"color":{"field":"s","type":"nominal","scale":{"domain":["B","R","O","G"],"range":["#3b3bff","#cc0a0a","#ff8c1f","#22c422"]},"legend":null}}},
{"data":{"name":"pts"},"transform":[{"filter":"datum.p=='b'"}],
"mark":{"type":"point","filled":true,"size":95,"opacity":1,"clip":true},
"encoding":{"color":{"field":"s","type":"nominal","scale":{"domain":["B","R","O","G"],"range":["#3b3bff","#cc0a0a","#ff8c1f","#22c422"]},"legend":null},
"shape":{"field":"s","type":"nominal","scale":{"domain":["B","R","O","G"],"range":["triangle-up","square","diamond","circle"]},"legend":null}}},
{"data":{"name":"cases"},"transform":[{"filter":"datum.p=='b'"}],
"mark":{"type":"text","align":"left","baseline":"middle","font":"Liberation Sans","fontSize":14,"fontWeight":"bold"},
"encoding":{"text":{"field":"label"},"color":{"field":"s","type":"nominal","scale":{"domain":["B","R","O","G"],"range":["#3b3bff","#cc0a0a","#ff8c1f","#22c422"]},"legend":null}}},
{"data":{"name":"notes"},"transform":[{"filter":"datum.p=='b' && datum.g=='left'"}],
"mark":{"type":"text","align":"left","baseline":"middle","font":"Liberation Sans","fontSize":14,"fontWeight":"bold","color":"#111111"},
"encoding":{"text":{"field":"label"}}},
{"data":{"name":"notes"},"transform":[{"filter":"datum.p=='b' && datum.g=='center'"}],
"mark":{"type":"text","align":"center","baseline":"middle","font":"Liberation Sans","fontSize":14,"fontWeight":"bold","color":"#111111"},
"encoding":{"text":{"field":"label"}}},
{"data":{"name":"panels"},"transform":[{"filter":"datum.p=='b'"}],
"mark":{"type":"text","align":"center","baseline":"middle","font":"Liberation Sans","fontSize":22,"color":"#111111"},
"encoding":{"text":{"field":"label"}}},
{"data":{"name":"arrows"},"transform":[{"filter":"datum.p=='b'"}],
"mark":{"type":"rule","strokeWidth":1.5,"color":"#000000"},
"encoding":{"x2":{"field":"r2"},"y2":{"field":"A2"}}},
{"data":{"name":"arrows"},"transform":[{"filter":"datum.p=='b'"}],
"mark":{"type":"point","shape":"triangle-up","filled":true,"size":90,"angle":37,"color":"#000000","opacity":1},
"encoding":{"x":{"field":"r2","type":"quantitative","scale":{"type":"log","domain":[0.275,450],"nice":false},"axis":null},"y":{"field":"A2","type":"quantitative","scale":{"type":"log","domain":[0.001,10],"nice":false},"axis":null}}}
],
"resolve":{"axis":{"x":"independent","y":"independent"}}
}
]
}
